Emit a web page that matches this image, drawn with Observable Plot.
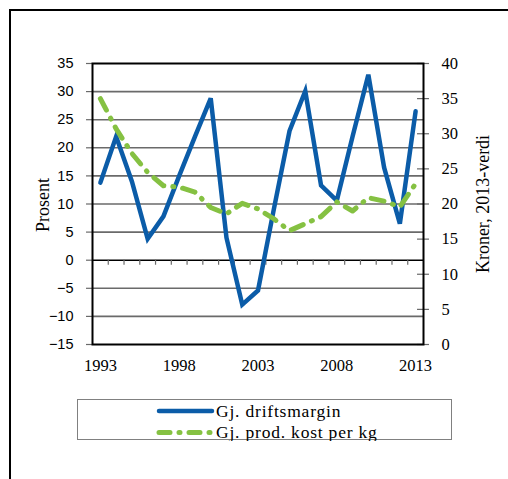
<!DOCTYPE html>
<html>
<head>
<meta charset="utf-8">
<script src="https://cdn.jsdelivr.net/npm/d3@7"></script>
<script src="https://cdn.jsdelivr.net/npm/@observablehq/plot@0.6"></script>
<style>
  html, body { margin: 0; padding: 0; background: #fff; overflow: hidden; width: 508px; height: 479px; }
  #wrap { position: relative; width: 508px; height: 479px; }
  #border { position: absolute; left: 9px; top: 9px; width: 600px; height: 600px; border-left: 2px solid #000; border-top: 2px solid #000; }
  #chart { position: absolute; left: 0; top: 0; }
  #legend { position: absolute; left: 77px; top: 399px; width: 375px; height: 41px; border: 1.5px solid #808080; box-sizing: border-box; }
  #legend svg { position: absolute; left: 0; top: 0; }
</style>
</head>
<body>
<div id="wrap">
  <div id="border"></div>
  <div id="chart"></div>
  <div id="legend"></div>
</div>
<script>
// ---- data ----
const years = [1993, 1994, 1995, 1996, 1997, 1998, 1999, 2000, 2001, 2002, 2003,
               2004, 2005, 2006, 2007, 2008, 2009, 2010, 2011, 2012, 2013];
const driftsmargin = [13.8, 22, 14, 3.8, 7.8, 15, 22, 28.8, 4, -7.9, -5.4,
                      9, 23, 30.1, 13.3, 10.6, 22, 33, 16.5, 6.5, 26.5];
const prodKost = [35, 30.7, 27.2, 24.5, 22.6, 22.4, 21.7, 19.5, 18.6, 20.1, 19.3,
                  17.9, 16.2, 17.2, 18.2, 20.3, 19.0, 20.9, 20.4, 19.6, 22.9];
const leftTicks = [-15, -10, -5, 0, 5, 10, 15, 20, 25, 30, 35];
const rightTicks = [0, 5, 10, 15, 20, 25, 30, 35, 40];
const xLabelYears = [1993, 1998, 2003, 2008, 2013];
const seriesNames = ["Gj. driftsmargin", "Gj. prod. kost per kg"];
const leftTitle = "Prosent";
const rightTitle = "Kroner, 2013-verdi";

// ---- styles ----
const BLUE = "#0b5ca8";
const GREEN = "#85c142";
const GRID = "#6a6a6a";
const SERIF = "Liberation Serif";
const SANS = "Liberation Sans";
const DASH = "13 9 1 9";

// right axis (0..40) mapped onto left axis (-15..35)
const [L0, L1] = [leftTicks[0], leftTicks[leftTicks.length - 1]];
const [R0, R1] = [rightTicks[0], rightTicks[rightTicks.length - 1]];
const toLeft = r => L0 + (r - R0) * (L1 - L0) / (R1 - R0);
const toRight = l => R0 + (l - L0) * (R1 - R0) / (L1 - L0);

const data = years.map((year, i) => ({year, margin: driftsmargin[i], kost: prodKost[i]}));
const xMin = years[0] - 0.5, xMax = years[years.length - 1] + 0.5;
const boundaries = years.slice(0, -1).map(y => y + 0.5);
const tickLen = 0.38; // in year units (~6px)

const chart = Plot.plot({
  width: 508,
  height: 385,
  marginLeft: 92,
  marginRight: 85,
  marginTop: 63,
  marginBottom: 41,
  style: {fontFamily: SERIF, fontSize: "16px", color: "#000", background: "transparent"},
  x: {type: "linear", domain: [xMin, xMax], axis: null},
  y: {domain: [L0, L1], axis: null},
  marks: [
    Plot.ruleY(leftTicks.filter(v => v !== 0 && v !== L0 && v !== L1), {stroke: GRID, strokeWidth: 1.6}),
    Plot.ruleY([0], {stroke: "#000", strokeWidth: 1.6}),
    Plot.ruleX(boundaries, {y1: 0, y2: -0.9, stroke: GRID, strokeWidth: 1.2}),
    Plot.ruleY(leftTicks, {x1: xMin - tickLen, x2: xMin, stroke: GRID, strokeWidth: 1.2}),
    Plot.ruleY(rightTicks.map(toLeft), {x1: xMax - tickLen, x2: xMax + tickLen, stroke: GRID, strokeWidth: 1.2}),
    Plot.frame({stroke: "#000", strokeWidth: 2}),
    Plot.line(data, {x: "year", y: "margin", stroke: BLUE, strokeWidth: 4.5,
      strokeLinejoin: "miter", strokeMiterlimit: 4, strokeLinecap: "round"}),
    Plot.line(data, {x: "year", y: d => toLeft(d.kost), stroke: GREEN, strokeWidth: 5,
      strokeDasharray: DASH, strokeLinecap: "round", strokeLinejoin: "round"}),
    Plot.axisY({anchor: "left", ticks: leftTicks, tickSize: 0, tickPadding: 19,
      fontFamily: SANS, fontSize: 14.5, label: null}),
    Plot.axisY({anchor: "right", ticks: rightTicks.map(toLeft), tickSize: 0, tickPadding: 18,
      tickFormat: d => String(Math.round(toRight(d))), fontFamily: SERIF, fontSize: 16.5, label: null}),
    Plot.axisX({anchor: "bottom", ticks: xLabelYears, tickSize: 0, tickPadding: 15,
      tickFormat: d => String(d), fontFamily: SERIF, fontSize: 16.5, label: null}),
    Plot.text([leftTitle], {text: d => d, frameAnchor: "left", textAnchor: "middle", dx: -49, dy: 1, rotate: -90,
      fontFamily: SERIF, fontSize: 18, letterSpacing: 0.6, fill: "#000"}),
    Plot.text([rightTitle], {text: d => d, frameAnchor: "right", textAnchor: "middle", dx: 60, dy: 0, rotate: -90,
      fontFamily: SERIF, fontSize: 18, fill: "#000", style: "letter-spacing:1.4px"})
  ]
});
document.getElementById("chart").appendChild(chart);

// ---- legend ----
const legendStyles = [
  {stroke: BLUE, width: 4.5, dash: null},
  {stroke: GREEN, width: 5, dash: "11 9 1 9"}
];
const lg = d3.select("#legend").append("svg").attr("width", 375).attr("height", 41);
seriesNames.forEach((name, i) => {
  const cy = 11 + i * 21.5;
  const st = legendStyles[i];
  lg.append("line").attr("x1", 81).attr("x2", 134).attr("y1", cy).attr("y2", cy)
    .attr("stroke", st.stroke).attr("stroke-width", st.width).attr("stroke-linecap", "round")
    .attr("stroke-dasharray", st.dash);
  lg.append("text").attr("x", 138).attr("y", cy + 5.5).text(name)
    .attr("font-family", SERIF).attr("font-size", 17.5).attr("letter-spacing", 0.8).attr("fill", "#000");
});
</script>
</body>
</html>
